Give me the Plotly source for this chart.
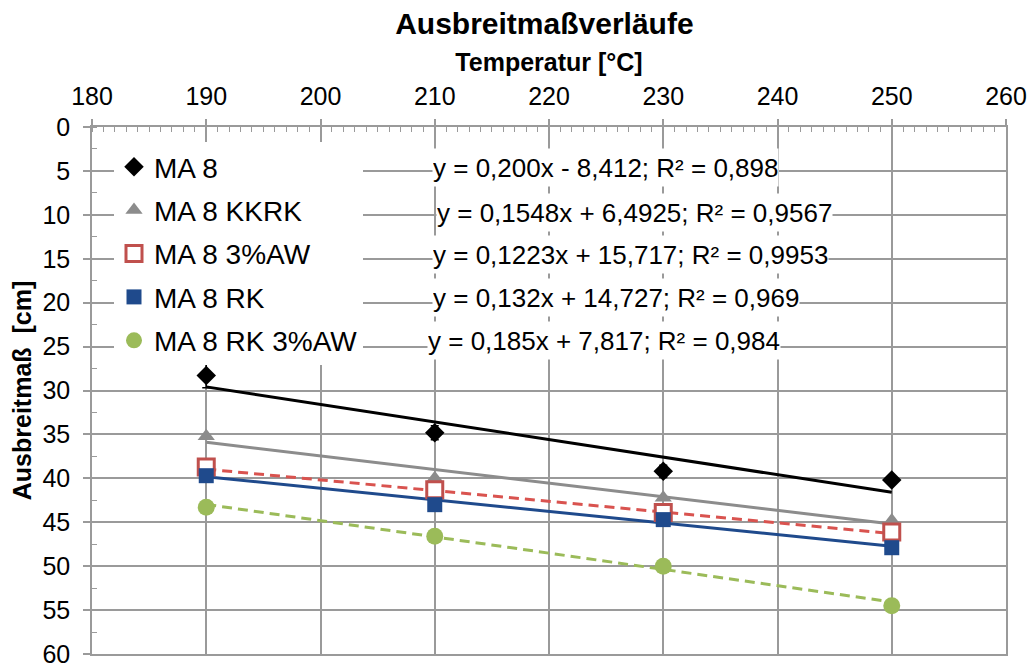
import plotly.graph_objects as go

# ---- data ----
temps = [190, 210, 230, 250]
series_names = ["MA 8", "MA 8 KKRK", "MA 8 3%AW", "MA 8 RK", "MA 8 RK 3%AW"]
ma8 = [28.3, 34.8, 39.2, 40.2]
ma8_err = [1.4, 0.8, 0.7, 0.3]
ma8_kkrk = [35.2, 40.0, 42.2, 44.8]
ma8_aw = [38.7, 41.3, 43.9, 46.1]
ma8_rk = [39.7, 43.0, 44.7, 47.9]
ma8_rk_aw = [43.3, 46.6, 50.0, 54.5]

# trendline coefficients as printed in the chart
slopes = [0.200, 0.1548, 0.1223, 0.132, 0.185]
intercepts = [-8.412, 6.4925, 15.717, 14.727, 7.817]
equations = [
    "y = 0,200x - 8,412; R² = 0,898",
    "y = 0,1548x + 6,4925; R² = 0,9567",
    "y = 0,1223x + 15,717; R² = 0,9953",
    "y = 0,132x + 14,727; R² = 0,969",
    "y = 0,185x + 7,817; R² = 0,984",
]
trend_x = [190, 250]

x_ticks = [180, 190, 200, 210, 220, 230, 240, 250, 260]
y_ticks = list(range(0, 61, 5))

# ---- styles ----
FONT = "Liberation Sans, Arial, sans-serif"
GRID = "#9a9a9a"
colors_marker = ["#000000", "#8c8c8c", "#c0504d", "#1f4a8c", "#9bbb59"]
colors_line = ["#000000", "#8c8c8c", "#d9534f", "#1f4a8c", "#9bbb59"]
dashes = ["solid", "solid", "10px,6px", "solid", "10px,6px"]
symbols = ["diamond", "triangle-up", "square-open", "square", "circle"]
sizes = [15, 15, 16, 15, 17]
values = [ma8, ma8_kkrk, ma8_aw, ma8_rk, ma8_rk_aw]

fig = go.Figure()

# trendlines (no legend)
for i in range(5):
    ty = [slopes[i] * x + intercepts[i] for x in trend_x]
    fig.add_trace(go.Scatter(
        x=trend_x, y=ty, mode="lines",
        line=dict(color=colors_line[i], width=3, dash=dashes[i]),
        showlegend=False, hoverinfo="skip",
    ))

# data markers
for i in range(5):
    mk = dict(symbol=symbols[i], size=sizes[i], color=colors_marker[i])
    if symbols[i] == "square-open":
        mk = dict(symbol="square", size=sizes[i], color="white",
                  line=dict(color=colors_marker[i], width=3))
    kw = {}
    if i == 0:
        kw["error_y"] = dict(type="data", array=ma8_err, visible=True,
                             color="#000000", thickness=1.5, width=4)
    fig.add_trace(go.Scatter(
        x=temps, y=values[i], mode="markers", name=series_names[i],
        marker=mk, legendgroup=f"g{i}", **kw,
    ))

# equation labels
eq_left = [432, 436, 432, 432, 427]        # px
eq_mid = [167, 212, 254, 297, 340]         # px
L, R, T, B = 92, 25, 127, 13
W, H = 1031, 667
pw, ph = W - L - R, H - T - B
for i in range(5):
    fig.add_annotation(
        text=equations[i], xref="paper", yref="paper",
        x=(eq_left[i] - L) / pw, y=1 - (eq_mid[i] - T) / ph,
        xanchor="left", yanchor="middle", showarrow=False,
        font=dict(family=FONT, size=26, color="#000000"),
        bgcolor="white", height=37, borderpad=0,
    )

fig.update_layout(
    width=W, height=H,
    margin=dict(l=L, r=R, t=T, b=B, autoexpand=False),
    paper_bgcolor="white", plot_bgcolor="white",
    font=dict(family=FONT, color="#000000"),
    title=dict(text="<b>Ausbreitmaßverläufe</b>", x=0.528, xanchor="center",
               y=1 - 23 / H, yanchor="middle",
               font=dict(family=FONT, size=30, color="#000000")),
    legend=dict(x=(114 - L) / pw, y=1 - (142 - T) / ph, xanchor="left", yanchor="top",
                bgcolor="white", borderwidth=0,
                font=dict(family=FONT, size=28, color="#000000"),
                tracegroupgap=4, traceorder="grouped"),
)

fig.update_xaxes(
    side="top", range=[180, 260], tickvals=x_ticks,
    ticktext=[str(v) for v in x_ticks],
    showgrid=True, gridcolor=GRID, gridwidth=1.5,
    showline=True, linecolor=GRID, linewidth=1.5, mirror=True,
    ticks="outside", ticklen=6, tickcolor=GRID, tickwidth=1.5,
    tickfont=dict(family=FONT, size=25, color="#000000"),
    ticklabelstandoff=4, ticklabeloverflow="allow", automargin=False,
    minor=dict(dtick=1, ticks="inside", ticklen=5, tickcolor=GRID, tickwidth=1, showgrid=False),
    title=dict(text="<b>Temperatur [°C]</b>", font=dict(family=FONT, size=25, color="#000000"),
               standoff=4),
    zeroline=False,
)
fig.update_yaxes(
    range=[60, 0], tickvals=y_ticks, ticktext=[str(v) for v in y_ticks],
    showgrid=True, gridcolor=GRID, gridwidth=1.5,
    showline=True, linecolor=GRID, linewidth=1.5, mirror=True,
    ticks="outside", ticklen=7, tickcolor=GRID, tickwidth=1.5,
    tickfont=dict(family=FONT, size=25, color="#000000"),
    ticklabelstandoff=8, ticklabeloverflow="allow", automargin=False,
    minor=dict(dtick=2.5, ticks="inside", ticklen=5, tickcolor=GRID, tickwidth=1, showgrid=False),
    title=dict(text="<b>Ausbreitmaß&nbsp; [cm]</b>", font=dict(family=FONT, size=25, color="#000000"),
               standoff=4),
    zeroline=False,
)

fig.write_html("out.html")
